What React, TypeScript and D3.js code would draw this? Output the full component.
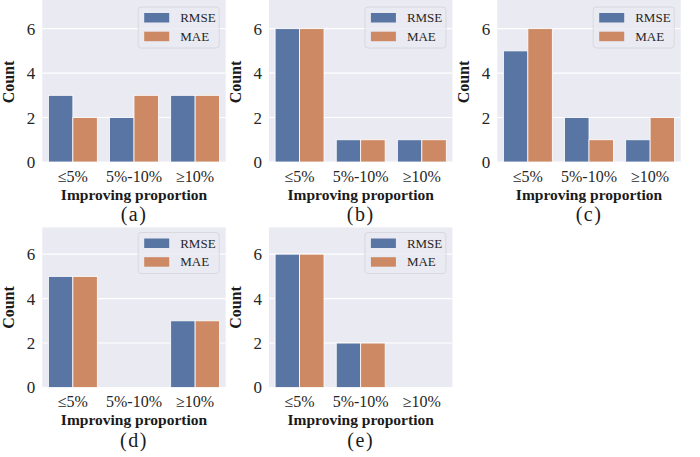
import React from "react";
import * as d3 from "d3";

const categories = ["≤5%", "5%-10%", "≥10%"];
const seriesNames = ["RMSE", "MAE"];
const panelLabels = ["(a)", "(b)", "(c)", "(d)", "(e)"];
const rmseValues = [
  [3, 2, 3],
  [6, 1, 1],
  [5, 2, 1],
  [5, 0, 3],
  [6, 2, 0],
];
const maeValues = [
  [2, 3, 3],
  [6, 1, 1],
  [6, 1, 2],
  [5, 0, 3],
  [6, 2, 0],
];
const yTicks = [0, 2, 4, 6];
const colors = ["#5975a4", "#cc8963"];

const FONT = "Liberation Serif, Times New Roman, serif";
const panelLefts = [42.3, 269, 497.3];
const panelWidth = 183.4;
const rowBase = [162, 387.5];
const yMax = 7.2;
const plotH = 160;

function Panel({ idx }: { idx: number }) {
  const col = idx % 3;
  const row = Math.floor(idx / 3);
  const left = panelLefts[col];
  const right = left + panelWidth;
  const y0 = rowBase[row];
  const x = d3.scaleBand<string>().domain(categories).range([left, right]).paddingInner(0).paddingOuter(0);
  const bw = x.bandwidth();
  const y = d3.scaleLinear().domain([0, yMax]).range([y0, y0 - plotH]);
  const bgTop = row === 0 ? 0 : y(yMax);
  const series = [rmseValues[idx], maeValues[idx]];
  const cx = (left + right) / 2;
  const legW = 81;
  const legX = right - 6.5 - legW;
  const legY = y0 - 155;
  return (
    <g>
      <rect x={left} y={bgTop} width={panelWidth} height={y0 - bgTop} fill="#eaeaf2" />
      {yTicks.map((t) => (
        <g key={t}>
          <line x1={left} x2={right} y1={y(t)} y2={y(t)} stroke="#ffffff" strokeWidth={1.1} />
          <text x={left - 7} y={y(t)} dy="0.35em" textAnchor="end" fontSize={17} fontFamily={FONT} fill="#262626">
            {t}
          </text>
        </g>
      ))}
      {categories.map((c, ci) =>
        series.map((vals, si) => {
          const v = vals[ci];
          if (!v) return null;
          const bx = (x(c) as number) + bw * 0.1 + si * bw * 0.4;
          return (
            <rect
              key={c + si}
              x={bx}
              y={y(v)}
              width={bw * 0.4}
              height={y(0) - y(v)}
              fill={colors[si]}
              stroke="#ffffff"
              strokeWidth={0.8}
            />
          );
        })
      )}
      {categories.map((c) => (
        <text
          key={c}
          x={(x(c) as number) + bw / 2}
          y={y0 + 19.5}
          textAnchor="middle"
          fontSize={16}
          fontFamily={FONT}
          fill="#262626"
        >
          {c}
        </text>
      ))}
      <text x={cx} y={y0 + 37.5} textAnchor="middle" fontSize={15.5} fontWeight="bold" fontFamily={FONT} fill="#1a1a1a">
        Improving proportion
      </text>
      <text x={cx} y={y0 + 59} textAnchor="middle" fontSize={20} letterSpacing={1.5} fontFamily={FONT} fill="#1a1a1a">
        {panelLabels[idx]}
      </text>
      <text
        transform={`translate(${left - 28},${(y0 + y(yMax)) / 2}) rotate(-90)`}
        textAnchor="middle"
        fontSize={16}
        fontWeight="bold"
        fontFamily={FONT}
        fill="#1a1a1a"
      >
        Count
      </text>
      <g>
        <rect x={legX} y={legY} width={legW} height={41} rx={3} fill="#eaeaf2" fillOpacity={0.8} stroke="#d3d3d8" strokeWidth={0.8} />
        {seriesNames.map((s, si) => (
          <g key={s}>
            <rect x={legX + 6} y={legY + 6 + si * 18.7} width={25} height={9.5} fill={colors[si]} />
            <text x={legX + 42} y={legY + 15 + si * 18.7} fontSize={13} fontFamily={FONT} fill="#262626">
              {s}
            </text>
          </g>
        ))}
      </g>
    </g>
  );
}

export default function App() {
  return (
    <svg width={700} height={457} style={{ position: "absolute", left: 0, top: 0, background: "#ffffff" }}>
      <rect x={0} y={0} width={700} height={457} fill="#ffffff" />
      {panelLabels.map((_, i) => (
        <Panel key={i} idx={i} />
      ))}
    </svg>
  );
}
